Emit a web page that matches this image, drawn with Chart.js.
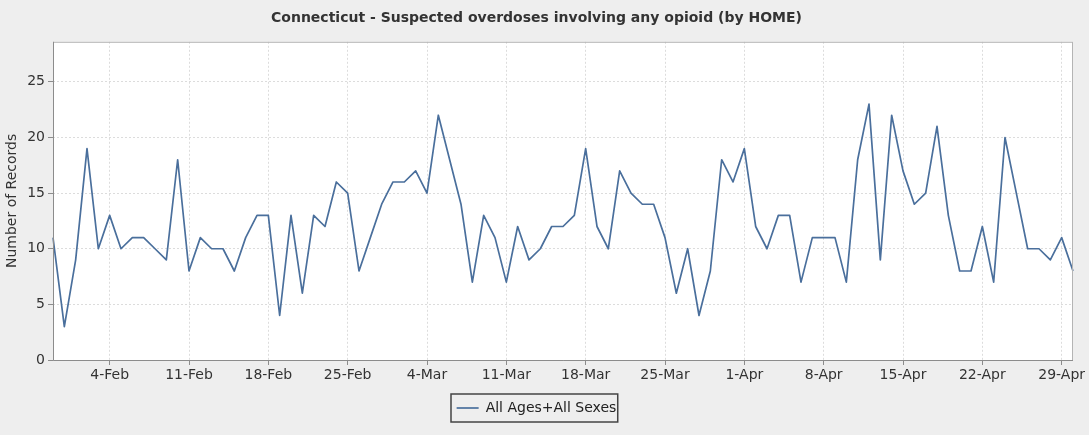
<!DOCTYPE html>
<html>
<head>
<meta charset="utf-8">
<script src="https://cdn.jsdelivr.net/npm/chart.js@4.4.0/dist/chart.umd.min.js"></script>
<style>
  html, body { margin: 0; padding: 0; background: #eeeeee; }
  #wrap { width: 1089px; height: 435px; position: relative; }
</style>
</head>
<body>
<div id="wrap"><canvas id="chart"></canvas></div>
<script>
// daily dates, 30-Jan .. 30-Apr
var months = ["Jan", "Feb", "Mar", "Apr"];
var monthDays = [[30, 31], [1, 28], [1, 31], [1, 30]];
var dates = [];
for (var m = 0; m < months.length; m++) {
  for (var d = monthDays[m][0]; d <= monthDays[m][1]; d++) {
    dates.push(d + "-" + months[m]);
  }
}

var records = [
  11, 3,
  // Feb
  9, 19, 10, 13, 10, 11, 11, 10, 9, 18, 8, 11, 10, 10, 8, 11, 13, 13, 4, 13,
  6, 13, 12, 16, 15, 8, 11, 14,
  // Mar
  16, 16, 17, 15, 22, 18, 14, 7, 13, 11, 7, 12, 9, 10, 12, 12, 13, 19, 12, 10,
  17, 15, 14, 14, 11, 6, 10, 4, 8, 18, 16,
  // Apr
  19, 12, 10, 13, 13, 7, 11, 11, 11, 7, 18, 23, 9, 22, 17, 14, 15, 21, 13, 8,
  8, 12, 7, 20, 15, 10, 10, 9, 11, 8
];

var tickLabels = ["4-Feb", "11-Feb", "18-Feb", "25-Feb", "4-Mar", "11-Mar", "18-Mar",
  "25-Mar", "1-Apr", "8-Apr", "15-Apr", "22-Apr", "29-Apr"];
var yTicks = [0, 5, 10, 15, 20, 25];

var plotFrame = {
  id: "plotFrame",
  beforeDraw: function (chart) {
    var a = chart.chartArea, c = chart.ctx;
    c.save();
    c.fillStyle = "#ffffff";
    c.fillRect(a.left, a.top, a.right - a.left, a.bottom - a.top);
    c.restore();
  },
  afterDraw: function (chart) {
    var a = chart.chartArea, c = chart.ctx;
    c.save();
    c.lineWidth = 1;
    c.strokeStyle = "#b4b4b4";
    c.strokeRect(a.left + 0.5, a.top + 0.5, a.right - a.left - 1, a.bottom - a.top);
    // axis lines a bit darker
    c.strokeStyle = "#8c8c8c";
    c.beginPath();
    c.moveTo(a.left + 0.5, a.top);
    c.lineTo(a.left + 0.5, a.bottom + 0.5);
    c.lineTo(a.right, a.bottom + 0.5);
    c.stroke();
    // box round the legend
    var lg = chart.legend;
    if (lg && lg.legendHitBoxes.length) {
      var b = lg.legendHitBoxes[0];
      c.strokeStyle = "#444444";
      c.lineWidth = 1.5;
      c.strokeRect(Math.round(b.left) - 6, Math.round(b.top) - 7, b.width + 7, b.height + 14);
    }
    c.restore();
  }
};

var ctx = document.getElementById("chart");
new Chart(ctx, {
  type: "line",
  data: {
    labels: dates,
    datasets: [{
      label: "All Ages+All Sexes",
      data: records,
      borderColor: "#4a6f9c",
      backgroundColor: "#4a6f9c",
      borderWidth: 1.7,
      borderJoinStyle: "round",
      pointRadius: 0,
      tension: 0
    }]
  },
  options: {
    responsive: true,
    maintainAspectRatio: false,
    animation: false,
    layout: { padding: { left: 0, right: 16, top: 0, bottom: 10 } },
    plugins: {
      title: {
        display: true,
        text: "Connecticut - Suspected overdoses involving any opioid (by HOME)",
        color: "#333333",
        font: { family: "DejaVu Sans", size: 14, weight: "bold" },
        padding: { top: 10, bottom: 15 }
      },
      legend: {
        position: "bottom",
        labels: {
          usePointStyle: true,
          pointStyle: "line",
          pointStyleWidth: 22,
          color: "#222222",
          font: { family: "DejaVu Sans", size: 14 },
          padding: 12
        }
      },
      tooltip: { enabled: false }
    },
    scales: {
      x: {
        offset: false,
        afterFit: function (scale) { scale.height = 29; },
        grid: {
          color: "#dcdcdc",
          tickColor: "#8c8c8c",
          tickLength: 5,
          tickBorderDash: []
        },
        border: { display: false, dash: [2, 2] },
        ticks: {
          autoSkip: false,
          maxRotation: 0,
          color: "#333333",
          font: { family: "DejaVu Sans", size: 14 },
          padding: 2,
          callback: function (v, i) {
            var s = dates[i];
            return tickLabels.indexOf(s) >= 0 ? s : null;
          }
        }
      },
      y: {
        min: 0,
        max: 28.6,
        afterFit: function (scale) { scale.width = 53; },
        title: {
          display: true,
          text: "Number of Records",
          color: "#333333",
          font: { family: "DejaVu Sans", size: 14 },
          padding: { top: 4, bottom: 4 }
        },
        grid: {
          color: "#dcdcdc",
          tickColor: "#8c8c8c",
          tickLength: 5,
          tickBorderDash: []
        },
        border: { display: false, dash: [2, 2] },
        afterBuildTicks: function (scale) {
          scale.ticks = yTicks.map(function (v) { return { value: v }; });
        },
        ticks: {
          color: "#333333",
          font: { family: "DejaVu Sans", size: 14 },
          padding: 3
        }
      }
    }
  },
  plugins: [plotFrame]
});
</script>
</body>
</html>
